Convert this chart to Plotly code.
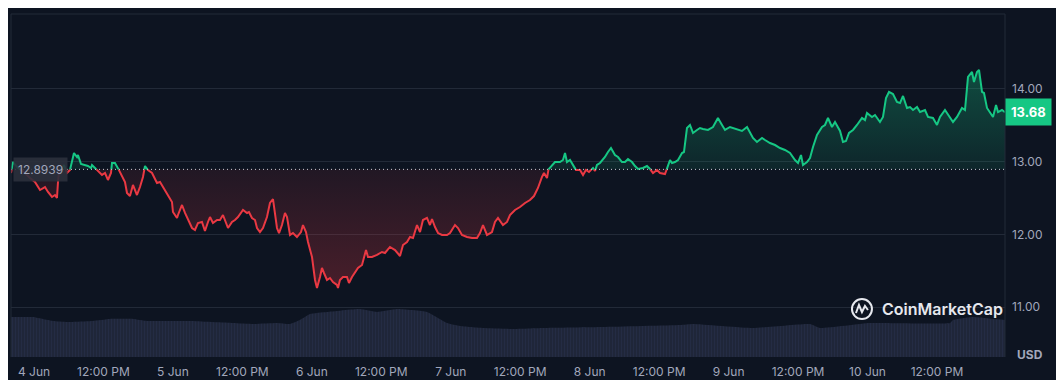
import plotly.graph_objects as go
from datetime import datetime, timedelta

# ---------------- data ----------------
BASE_PRICE = 12.8939
LAST_PRICE = 13.68
START = datetime(2024, 6, 4)  # hours below are relative to 4 Jun 00:00

price_hours = [
    -3.97, -3.63, -2.76, -1.73, -0.69, 0.17, 1.04, 1.90, 2.42, 3.11, 3.63, 3.97, 4.15, 4.32,
    5.18, 5.70, 6.22, 6.56, 6.91, 7.43, 7.60, 8.12, 8.81, 9.33, 9.85, 10.02, 10.54, 11.06,
    11.75, 12.27, 12.78, 13.30, 13.48, 13.99, 14.51, 15.20, 15.72, 16.07, 16.58, 17.10,
    17.79, 18.31, 18.83, 19.18, 19.69, 20.39, 21.25, 21.77, 22.63, 23.15, 23.84, 24.01,
    24.71, 24.88, 25.57, 26.09, 26.61, 27.30, 27.81, 28.33, 29.02, 29.54, 30.06, 30.41,
    30.92, 31.62, 32.13, 32.65, 33.52, 34.21, 34.72, 35.24, 36.11, 36.80, 37.14, 37.66,
    38.18, 38.53, 39.04, 39.56, 40.25, 40.77, 41.29, 41.63, 41.98, 42.33, 42.84, 43.36,
    43.71, 44.23, 44.74, 45.43, 46.13, 46.47, 46.99, 47.34, 48.03, 48.55, 48.89, 49.41,
    49.75, 50.10, 50.62, 51.14, 51.65, 52.34, 52.52, 52.86, 53.38, 54.07, 54.42, 54.94,
    55.46, 55.97, 56.67, 57.36, 57.70, 58.39, 59.26, 60.12, 60.64, 61.50, 62.37, 63.23,
    63.75, 64.44, 64.96, 65.48, 66.17, 66.69, 67.20, 67.89, 68.41, 68.76, 69.28, 69.80,
    70.49, 71.35, 71.87, 72.73, 73.25, 73.94, 74.81, 75.67, 76.53, 77.05, 77.57, 78.26,
    79.12, 79.64, 80.16, 81.02, 81.72, 82.23, 83.10, 83.96, 84.83, 85.69, 86.38, 87.07,
    87.76, 88.11, 88.63, 88.80, 89.49, 90.01, 90.87, 91.39, 91.74, 92.08, 92.60, 93.12,
    93.64, 94.33, 94.85, 95.36, 95.88, 96.57, 96.92, 97.26, 97.78, 98.64, 99.16, 99.68,
    100.37, 100.89, 101.58, 102.10, 102.62, 103.31, 103.83, 104.35, 105.21, 105.90,
    106.42, 106.94, 107.63, 108.15, 109.01, 109.53, 109.88, 110.22, 110.74, 111.26,
    111.95, 112.29, 112.81, 113.33, 113.85, 114.54, 115.06, 115.57, 116.44, 117.30,
    118.16, 118.86, 119.38, 120.24, 120.76, 121.45, 122.31, 123.18, 123.70, 124.21,
    124.90, 125.77, 126.29, 127.15, 128.02, 128.88, 129.74, 130.61, 131.47, 131.99,
    132.51, 132.85, 133.54, 134.06, 134.58, 135.27, 136.14, 136.65, 137.17, 137.86,
    138.38, 139.25, 139.76, 140.28, 140.80, 141.49, 142.18, 143.05, 143.56, 143.91,
    144.77, 145.29, 146.15, 146.67, 147.19, 147.71, 148.40, 149.09, 149.61, 150.13,
    150.82, 151.34, 151.86, 152.55, 153.07, 153.93, 154.45, 155.31, 156.00, 156.52,
    157.38, 157.90, 158.77, 159.46, 160.32, 160.84, 161.36, 162.05, 162.39, 162.91,
    163.26, 163.78, 164.12, 164.64, 165.16, 165.68, 166.20, 166.54, 167.23, 167.75,
]

price_values = [
    12.844, 12.995, 12.913, 12.858, 12.775, 12.720, 12.610, 12.651, 12.583, 12.514, 12.541, 12.500, 12.720, 12.844,
    12.954, 12.844, 12.885, 13.023, 13.119, 13.064, 13.092, 12.968, 12.954, 12.940, 12.913, 12.954, 12.913, 12.872,
    12.817, 12.844, 12.748, 12.844, 12.982, 12.982, 12.913, 12.789, 12.720, 12.569, 12.527, 12.679,
    12.541, 12.651, 12.789, 12.940, 12.885, 12.844, 12.706, 12.720, 12.610, 12.541, 12.445, 12.307,
    12.225, 12.266, 12.404, 12.294, 12.197, 12.087, 12.060, 12.156, 12.170, 12.046, 12.170, 12.238,
    12.156, 12.197, 12.197, 12.266, 12.087, 12.170, 12.197, 12.238, 12.335, 12.294, 12.307, 12.225,
    12.197, 12.087, 12.032, 12.087, 12.238, 12.431, 12.486, 12.266, 12.087, 12.018, 12.128, 12.294,
    12.238, 11.991, 12.018, 11.963, 12.032, 12.128, 12.032, 11.895, 11.688, 11.372, 11.262, 11.413,
    11.537, 11.468, 11.372, 11.399, 11.344, 11.303, 11.262, 11.372, 11.413, 11.413, 11.330, 11.413,
    11.482, 11.537, 11.578, 11.784, 11.688, 11.688, 11.716, 11.757, 11.743, 11.826, 11.784, 11.702,
    11.853, 11.895, 11.963, 11.949, 12.128, 12.032, 12.197, 12.225, 12.128, 12.211, 12.101, 12.018,
    11.991, 11.991, 12.018, 12.128, 12.087, 11.991, 11.963, 11.949, 11.949, 12.018, 12.128, 11.991,
    12.032, 12.170, 12.225, 12.128, 12.170, 12.266, 12.335, 12.376, 12.431, 12.472, 12.527, 12.638,
    12.789, 12.844, 12.775, 12.885, 12.954, 12.995, 12.995, 13.023, 13.119, 12.995, 13.023, 12.954,
    12.885, 12.885, 12.817, 12.885, 12.858, 12.913, 12.872, 12.954, 12.982, 13.064, 13.133, 13.188,
    13.092, 13.064, 12.995, 12.995, 13.037, 12.995, 12.940, 12.899, 12.913, 12.940,
    12.899, 12.844, 12.885, 12.844, 12.830, 12.940, 13.023, 12.982, 12.995, 13.023,
    13.119, 13.133, 13.463, 13.505, 13.395, 13.436, 13.463, 13.450, 13.436, 13.477,
    13.601, 13.505, 13.436, 13.477, 13.463, 13.436, 13.422, 13.477, 13.395, 13.326,
    13.271, 13.326, 13.298, 13.257, 13.229, 13.188, 13.161, 13.119, 13.023, 12.982,
    13.092, 12.954, 12.995, 13.050, 13.202, 13.367, 13.477, 13.505, 13.601, 13.477,
    13.546, 13.422, 13.271, 13.284, 13.395, 13.436, 13.505, 13.601, 13.573, 13.670,
    13.615, 13.642, 13.546, 13.615, 13.876, 13.959, 13.931, 13.821, 13.807, 13.904,
    13.739, 13.752, 13.711, 13.752, 13.683, 13.711, 13.615, 13.601, 13.505, 13.615,
    13.711, 13.642, 13.546, 13.615, 13.739, 13.711, 14.165, 14.234, 14.096, 14.234,
    14.262, 13.959, 13.945, 13.739, 13.670, 13.615, 13.780, 13.683, 13.711, 13.680,
]

volume_hours = [
    -3.97, -0.17, 1.55, 3.28, 5.70, 10.19, 13.13, 17.10, 19.52, 26.95, 34.38, 37.83, 41.98,
    44.23, 45.95, 47.68, 50.62, 56.32, 59.26, 62.71, 67.89, 71.35, 73.60, 77.57, 82.75,
    87.93, 98.30, 111.60, 113.85, 124.21, 134.06, 135.79, 144.43, 158.25, 158.77, 162.22,
    164.29, 167.75,
]
volume_values = [  # 24h volume, millions USD (estimated)
    400, 400, 380, 360, 350, 360, 380, 380, 360, 360, 340, 330, 340,
    330, 370, 430, 450, 480, 450, 480, 450, 340, 310, 290, 280,
    290, 300, 320, 330, 290, 330, 290, 340, 340, 370, 400,
    390, 370,
]

tick_hours = [0, 12, 24, 36, 48, 60, 72, 84, 96, 108, 120, 132, 144, 156]
tick_labels = ["4 Jun", "12:00 PM", "5 Jun", "12:00 PM", "6 Jun", "12:00 PM", "7 Jun",
               "12:00 PM", "8 Jun", "12:00 PM", "9 Jun", "12:00 PM", "10 Jun", "12:00 PM"]
y_ticks = [11, 12, 13, 14]
y_tick_labels = ["11.00", "12.00", "13.00", "14.00"]

# ---------------- styles ----------------
BG = "#0d1421"
GRID = "#222a38"
GREEN = "#16c784"
RED = "#ea3943"
TXT = "#a1a7bb"
FONT = "Inter"

def t(h):
    return START + timedelta(hours=h)

# insert baseline crossings so the two coloured parts join
xs, ys = [], []
for i, (h, p) in enumerate(zip(price_hours, price_values)):
    if i > 0:
        a = price_values[i - 1] - BASE_PRICE
        b = p - BASE_PRICE
        if a * b < 0:
            hc = price_hours[i - 1] + (h - price_hours[i - 1]) * a / (a - b)
            xs.append(hc)
            ys.append(BASE_PRICE)
    xs.append(h)
    ys.append(p)

tx = [t(h) for h in xs]
base_line = [BASE_PRICE] * len(xs)
green_fill = [max(v, BASE_PRICE) for v in ys]
red_fill = [min(v, BASE_PRICE) for v in ys]
green_line = [v if v >= BASE_PRICE else None for v in ys]
red_line = [v if v <= BASE_PRICE else None for v in ys]

fig = go.Figure()

# volume
fig.add_trace(go.Scatter(
    x=[t(h) for h in volume_hours], y=volume_values, yaxis="y2",
    mode="lines", line=dict(width=0, color="#20283c", shape="spline", smoothing=0.4),
    fill="tozeroy", fillcolor="#1f2639",
    fillpattern=dict(shape="|", size=3, solidity=0.35, fgcolor="#2a3250", bgcolor="#1f2639"),
    hoverinfo="skip"))

# green area
fig.add_trace(go.Scatter(x=tx, y=base_line, mode="lines", line=dict(width=0), hoverinfo="skip"))
fig.add_trace(go.Scatter(
    x=tx, y=green_fill, mode="lines", line=dict(width=0), fill="tonexty",
    fillgradient=dict(type="vertical", start=BASE_PRICE, stop=14.3,
                      colorscale=[[0, "rgba(22,199,132,0.10)"], [1, "rgba(22,199,132,0.32)"]]),
    hoverinfo="skip"))
# red area
fig.add_trace(go.Scatter(x=tx, y=base_line, mode="lines", line=dict(width=0), hoverinfo="skip"))
fig.add_trace(go.Scatter(
    x=tx, y=red_fill, mode="lines", line=dict(width=0), fill="tonexty",
    fillgradient=dict(type="vertical", start=11.25, stop=BASE_PRICE,
                      colorscale=[[0, "rgba(234,57,67,0.27)"], [1, "rgba(234,57,67,0.09)"]]),
    hoverinfo="skip"))

# lines
fig.add_trace(go.Scatter(x=tx, y=red_line, mode="lines", line=dict(color=RED, width=2),
                         connectgaps=False, hoverinfo="skip"))
fig.add_trace(go.Scatter(x=tx, y=green_line, mode="lines", line=dict(color=GREEN, width=2),
                         connectgaps=False, hoverinfo="skip"))

shapes = [
    dict(type="line", xref="paper", yref="y", x0=0, x1=1, y0=BASE_PRICE, y1=BASE_PRICE,
         line=dict(color="#c8ccd6", width=1, dash="1px,3px")),
    dict(type="line", xref="paper", yref="paper", x0=0, x1=0, y0=0, y1=1, line=dict(color=GRID, width=1)),
    dict(type="line", xref="paper", yref="paper", x0=1, x1=1, y0=0, y1=1, line=dict(color=GRID, width=1)),
    dict(type="line", xref="paper", yref="paper", x0=0, x1=1, y0=1, y1=1, line=dict(color=GRID, width=1)),
    # logo circle
    dict(type="circle", xref="paper", yref="paper", xsizemode="pixel", ysizemode="pixel",
         xanchor=0.8561, yanchor=0.1399, x0=-10, x1=10, y0=-10, y1=10,
         line=dict(color="#e6e8ee", width=2)),
    dict(type="path", xref="paper", yref="paper", xsizemode="pixel", ysizemode="pixel",
         xanchor=0.8561, yanchor=0.1399,
         path="M -6,-4 L -3,4 L 0,-3 L 3,3 L 6,-1",
         line=dict(color="#e6e8ee", width=2)),
]

annotations = [
    dict(xref="paper", yref="y", x=0.002, y=BASE_PRICE, xanchor="left", yanchor="middle",
         text="12.8939", showarrow=False, font=dict(family=FONT, size=12, color=TXT),
         bgcolor="rgba(43,48,60,0.9)", borderpad=4),
    dict(xref="paper", yref="y", x=1, y=LAST_PRICE, xanchor="left", yanchor="middle",
         text="<b>13.68</b>", showarrow=False, font=dict(family=FONT, size=13, color="#ffffff"),
         bgcolor=GREEN, borderpad=5),
    dict(xref="paper", yref="paper", x=0.8742, y=0.1399, xanchor="left", yanchor="middle",
         text="CoinMarketCap", showarrow=False,
         font=dict(family=FONT, size=16, color="#e6e8ee", weight=600)),
    dict(xref="paper", yref="paper", x=1.0252, y=0.006, xanchor="center", yanchor="middle",
         text="<b>USD</b>", showarrow=False, font=dict(family=FONT, size=12, color=TXT)),
]

# the page body keeps the browser's 8px margin, so the figure is 8px smaller
fig.update_layout(
    width=1056, height=372, margin=dict(l=3, r=59, t=6, b=23),
    paper_bgcolor=BG, plot_bgcolor=BG, showlegend=False, hovermode=False,
    shapes=shapes, annotations=annotations,
    xaxis=dict(type="date", range=[t(price_hours[0]), t(price_hours[-1])],
               tickvals=[t(h) for h in tick_hours], ticktext=tick_labels,
               showgrid=False, zeroline=False, showline=False, ticks="", automargin=False,
               tickfont=dict(family=FONT, size=12, color=TXT), ticklabelstandoff=6),
    yaxis=dict(side="right", range=[10.312, 15.032], tickvals=y_ticks, ticktext=y_tick_labels,
               gridcolor=GRID, gridwidth=1, zeroline=False, showline=False, ticks="",
               automargin=False,
               tickfont=dict(family=FONT, size=12, color=TXT), ticklabelstandoff=6),
    yaxis2=dict(overlaying="y", range=[0, 3430], visible=False),
)

fig.write_html("out.html")
